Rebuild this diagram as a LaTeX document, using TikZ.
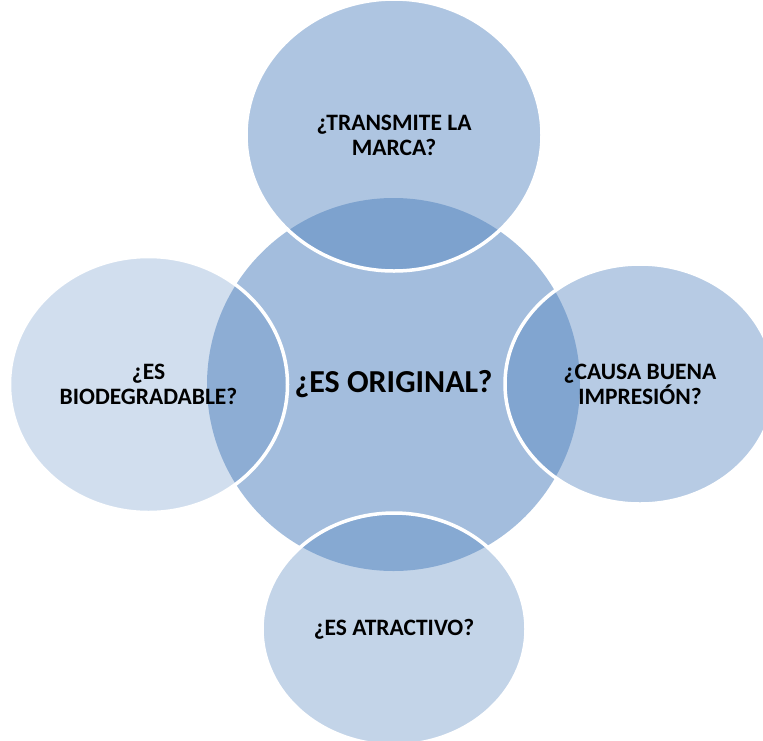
\documentclass[tikz,border=0pt]{standalone}
\usepackage{fontspec}
\setmainfont{Carlito}
\usetikzlibrary{shapes.geometric}
\definecolor{vennblue}{HTML}{4F81BD}
\tikzset{
  blob/.style={ellipse, inner sep=0pt, fill=vennblue, text opacity=1, align=center,
    font=\bfseries\fontsize{23.5}{25}\selectfont},
  rim/.style={blob, draw=white, line width=3.5pt}
}
\begin{document}
\begin{tikzpicture}[x=1pt,y=-1pt]
  \useasboundingbox (0,0) rectangle (763,740);
  \node[blob, fill opacity=0.52, minimum width=373pt, minimum height=373pt,
    font=\bfseries\fontsize{32}{38}\selectfont] (orig) at (393.5,384.5) {¿ES ORIGINAL?};
  \node[rim, fill opacity=0.46, minimum width=296pt, minimum height=272pt] (marca) at (394,135) {¿TRANSMITE LA\\MARCA?};
  \node[rim, fill opacity=0.41, minimum width=270pt, minimum height=240pt] (buena) at (640,384) {¿CAUSA BUENA\\IMPRESIÓN?};
  \node[rim, fill opacity=0.34, minimum width=264pt, minimum height=232pt] (atrac) at (394,629) {¿ES ATRACTIVO?};
  \node[rim, fill opacity=0.26, minimum width=278pt, minimum height=256pt] (biodeg) at (148.5,384.5) {¿ES\\BIODEGRADABLE?};
\end{tikzpicture}
\end{document}
